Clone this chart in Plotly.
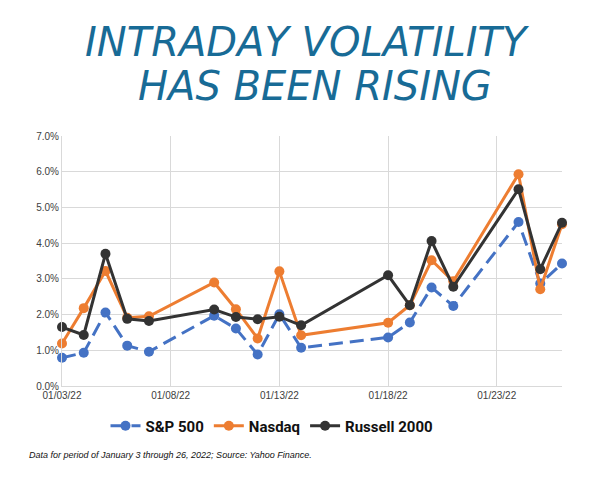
"""Intraday volatility of S&P 500, Nasdaq and Russell 2000, January 2022."""

import plotly.graph_objects as go

# --- data (daily intraday range, %) ---
dates = [
    "2022-01-03", "2022-01-04", "2022-01-05", "2022-01-06", "2022-01-07",
    "2022-01-10", "2022-01-11", "2022-01-12", "2022-01-13", "2022-01-14",
    "2022-01-18", "2022-01-19", "2022-01-20", "2022-01-21",
    "2022-01-24", "2022-01-25", "2022-01-26",
]
sp500 = [0.79, 0.93, 2.06, 1.13, 0.96, 1.97, 1.61, 0.88, 2.01, 1.07,
         1.36, 1.78, 2.76, 2.24, 4.59, 2.87, 3.43]
nasdaq = [1.19, 2.18, 3.22, 1.91, 1.95, 2.90, 2.15, 1.33, 3.21, 1.42,
          1.77, 2.26, 3.52, 2.93, 5.93, 2.71, 4.53]
russell = [1.65, 1.43, 3.70, 1.88, 1.82, 2.14, 1.93, 1.87, 1.94, 1.70,
           3.10, 2.26, 4.06, 2.78, 5.51, 3.27, 4.57]

series = [
    ("S&P 500", [v / 100 for v in sp500], "#4472C4", "14px,7px"),
    ("Nasdaq", [v / 100 for v in nasdaq], "#ED7D31", "solid"),
    ("Russell 2000", [v / 100 for v in russell], "#333333", "solid"),
]

fig = go.Figure()
for name, vals, color, dash in series:
    fig.add_trace(go.Scatter(
        x=dates, y=vals, name=name,
        mode="lines+markers",
        line=dict(color=color, width=3, dash=dash),
        marker=dict(color=color, size=10),
        cliponaxis=False,
    ))

# the page body has an 8px margin, so the figure is shifted up/left by 8px
grid = "#d9d9d9"
fig.update_layout(
    width=600, height=477,
    margin=dict(l=54, r=46, t=128, b=99),
    plot_bgcolor="white", paper_bgcolor="white",
    font=dict(family="Liberation Sans, Arial", size=10, color="#404040"),
    showlegend=True,
    legend=dict(
        orientation="h", x=0.42, xanchor="center",
        y=-(426 - 386) / 250, yanchor="middle",
        font=dict(family="Roboto, Liberation Sans", size=15, color="#111111",
                  weight="bold"),
        itemwidth=30, tracegroupgap=0,
    ),
    xaxis=dict(
        type="date",
        range=["2022-01-03", "2022-01-26"],
        tick0="2022-01-03", dtick=5 * 86400000,
        tickformat="%m/%d/%y",
        showgrid=True, gridcolor=grid, gridwidth=1,
        showline=True, linecolor=grid,
        zeroline=False, ticks="",
    ),
    yaxis=dict(
        range=[0, 0.07], dtick=0.01, tickformat=".1%",
        showgrid=True, gridcolor=grid, gridwidth=1,
        showline=True, linecolor=grid,
        zeroline=False, ticks="",
    ),
)

# title, drawn as annotations to mimic the hand-lettered heading
title_color = "#186b96"
for text, ycen, xcen in [("INTRADAY VOLATILITY", 42, 307), ("HAS BEEN RISING", 86, 315)]:
    fig.add_annotation(
        text=f"<i>{text}</i>", xref="paper", yref="paper",
        x=(xcen - 62) / 500, y=1 + (136 - ycen) / 250,
        xanchor="center", yanchor="middle", showarrow=False,
        font=dict(family="DejaVu Sans", size=40, color=title_color),
    )

fig.add_annotation(
    text="<i>Data for period of January 3 through 26, 2022; Source: Yahoo Finance.</i>",
    xref="paper", yref="paper", x=(27 - 62) / 500, y=-(455 - 386) / 250,
    xanchor="left", yanchor="middle", showarrow=False,
    font=dict(family="Liberation Sans, Arial", size=9, color="#111111"),
)

fig.write_html("out.html")
